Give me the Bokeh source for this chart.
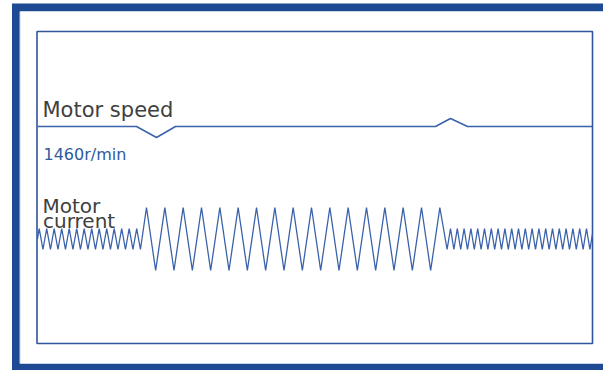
from bokeh.plotting import figure
from bokeh.models import Range1d
from bokeh.core.properties import value
from bokeh.embed import file_html
from bokeh.resources import INLINE

# ---- data (time in ms across the trace window) ----
speed_t = [0, 198, 238, 276, 796, 826, 860, 1110]
speed_rpm = [1460, 1460, 1405, 1460, 1460, 1500, 1460, 1460]
speed_label = "1460r/min"

current_t = [
    0, 3.4, 10.9, 18.4, 25.9, 33.4, 40.9, 48.4, 55.9, 63.4, 70.9, 78.4, 85.9, 93.4,
    100.9, 108.4, 115.9, 123.4, 130.9, 138.4, 145.9, 153.4, 160.9, 168.4, 175.9,
    183.4, 190.9, 198.4, 205.9,
    218, 236.3, 254.7, 273, 291.3, 309.7, 328, 346.3, 364.7, 383, 401.3, 419.7,
    438, 456.3, 474.7, 493, 511.3, 529.7, 548, 566.3, 584.7, 603, 621.3, 639.7,
    658, 676.3, 694.7, 713, 731.3, 749.7, 768, 786.3, 804.7,
    819.2, 826, 832.8, 839.6, 846.4, 853.2, 860, 866.8, 873.6, 880.4, 887.2, 894,
    900.8, 907.6, 914.4, 921.2, 928, 934.8, 941.6, 948.4, 955.2, 962, 968.8, 975.6,
    982.4, 989.2, 996, 1002.8, 1009.6, 1016.4, 1023.2, 1030, 1036.8, 1043.6, 1050.4,
    1057.2, 1064, 1070.8, 1077.6, 1084.4, 1091.2, 1098, 1104.8,
    1110,
]
current_a = [
    0,
    1, -1, 1, -1, 1, -1, 1, -1, 1, -1, 1, -1, 1, -1,
    1, -1, 1, -1, 1, -1, 1, -1, 1, -1, 1, -1, 1, -1,
    3, -3, 3, -3, 3, -3, 3, -3, 3, -3, 3, -3, 3, -3, 3, -3,
    3, -3, 3, -3, 3, -3, 3, -3, 3, -3, 3, -3, 3, -3, 3, -3, 3,
    -1, 1, -1, 1, -1, 1, -1, 1, -1, 1, -1, 1, -1, 1, -1, 1, -1, 1, -1, 1, -1, 1,
    -1, 1, -1, 1, -1, 1, -1, 1, -1, 1, -1, 1, -1, 1, -1, 1, -1, 1, -1, 1, -1,
    0.5,
]

labels = ["Motor speed", "Motor", "current"]

BLUE_DARK = "#1D4A93"
LINE_BLUE = "#3A62AA"
TEXT_GRAY = "#404040"
FONT = value("DejaVu Sans")

p = figure(width=603, height=370, x_range=Range1d(0, 603), y_range=Range1d(370, 0),
           min_border=0, toolbar_location=None, output_backend="svg",
           x_axis_location=None, y_axis_location=None)
p.xgrid.visible = False
p.ygrid.visible = False
p.outline_line_color = None
p.background_fill_color = "white"
p.border_fill_color = "white"

p.extra_x_ranges = {"t": Range1d(-74, 1132)}
p.extra_y_ranges = {"speed": Range1d(240, 2090), "current": Range1d(-12.524, 22.714)}

# decorative frames
p.quad(left=[11.5], right=[640], top=[3], bottom=[400], fill_color=BLUE_DARK, line_color=None)
p.quad(left=[19.5], right=[640], top=[11], bottom=[363], fill_color="white",
       line_color="#C9D3E6", line_width=1)
p.quad(left=[36.5], right=[592], top=[31], bottom=[343], fill_color=None,
       line_color="#2F559B", line_width=1.6)

# traces
p.line(speed_t, speed_rpm, x_range_name="t", y_range_name="speed",
       line_color=LINE_BLUE, line_width=1.5)
p.line(current_t, current_a, x_range_name="t", y_range_name="current",
       line_color=LINE_BLUE, line_width=1.3)

# labels
p.text(x=[42], y=[109], text=[labels[0]], text_font=FONT, text_font_size="21px",
       text_color=TEXT_GRAY, text_baseline="alphabetic", text_align="left")
p.text(x=[43], y=[154], text=[speed_label], text_font=FONT, text_font_size="16px",
       text_color="#2E5A9E", text_baseline="alphabetic", text_align="left")
p.text(x=[42], y=[205], text=[labels[1]], text_font=FONT, text_font_size="20px",
       text_color=TEXT_GRAY, text_baseline="alphabetic", text_align="left")
p.text(x=[42.5], y=[220], text=[labels[2]], text_font=FONT, text_font_size="20px",
       text_color=TEXT_GRAY, text_baseline="alphabetic", text_align="left")

open("out.html", "w").write(file_html(p, INLINE))
